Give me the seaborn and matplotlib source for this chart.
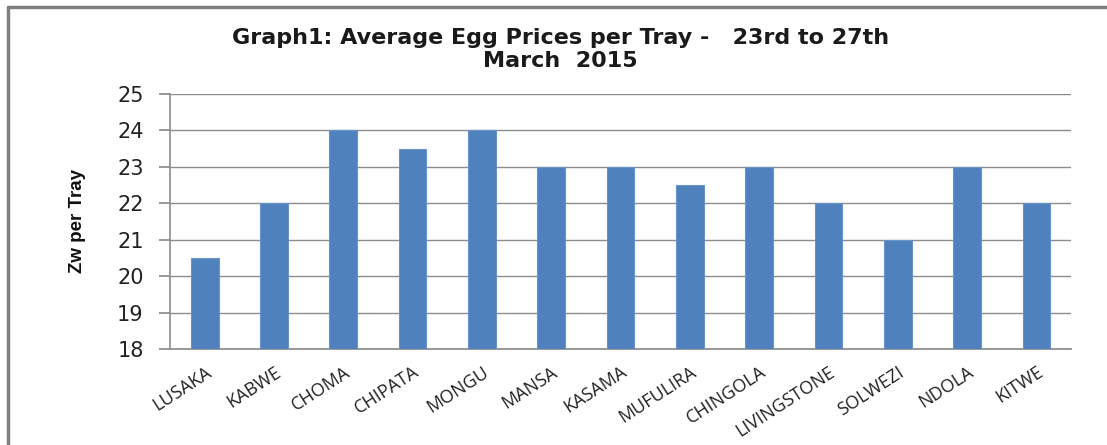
import matplotlib
matplotlib.use("Agg")
import matplotlib.pyplot as plt
import seaborn as sns
import pandas as pd
from matplotlib.lines import Line2D

# data
towns = ["LUSAKA", "KABWE", "CHOMA", "CHIPATA", "MONGU", "MANSA", "KASAMA",
         "MUFULIRA", "CHINGOLA", "LIVINGSTONE", "SOLWEZI", "NDOLA", "KITWE"]
prices = [20.5, 22, 24, 23.5, 24, 23, 23, 22.5, 23, 22, 21, 23, 22]

df = pd.DataFrame({"town": towns, "price": prices})

sns.set_theme(style="white")
plt.rcParams["font.family"] = ["DejaVu Sans"]

fig = plt.figure(figsize=(11.07, 4.45), dpi=100)
ax = fig.add_axes([0.1536, 0.2157, 0.8139, 0.5733])

sns.barplot(data=df, x="town", y="price", color="#4F81BD", width=0.4,
            saturation=1, edgecolor="#6A94C8", linewidth=0.8, ax=ax, zorder=3)

ax.set_ylim(18, 25)
ax.set_yticks(range(18, 26))
ax.grid(axis="y", color="#8c8c8c", linewidth=1, zorder=0)
ax.set_xlim(-0.5, len(towns) - 0.5)

for s in ["top", "right"]:
    ax.spines[s].set_visible(False)
ax.spines["left"].set_color("#8c8c8c")
ax.spines["bottom"].set_color("#8c8c8c")
ax.spines["left"].set_linewidth(1.2)

ax.tick_params(axis="y", left=True, length=8, color="#8c8c8c", labelsize=15,
               labelcolor="#222222", pad=11)
ax.tick_params(axis="x", bottom=False, labelsize=13, labelcolor="#222222", pad=4)
for lab in ax.get_xticklabels():
    lab.set_family(["Open Sans", "DejaVu Sans"])
plt.setp(ax.get_xticklabels(), rotation=33, ha="right", rotation_mode="anchor")

ax.set_xlabel("")
ax.set_ylabel("Zw per Tray", fontsize=13.5, fontweight="bold",
              family=["Liberation Sans", "DejaVu Sans"], color="#111111")
ax.yaxis.set_label_coords(-0.093, 0.5)

fig.text(0.506, 0.889, "Graph1: Average Egg Prices per Tray -   23rd to 27th\nMarch  2015",
         ha="center", va="center", fontsize=16, fontweight="bold", color="#1a1a1a",
         linespacing=1.15)

# frame lines at top and left like the source image
fig.add_artist(Line2D([0.0072, 1], [1 - 7 / 445, 1 - 7 / 445], color="#808080", lw=2.5))
fig.add_artist(Line2D([0.0072, 0.0072], [0, 1 - 7 / 445], color="#808080", lw=2.5))

fig.savefig("out.png", dpi=100)
